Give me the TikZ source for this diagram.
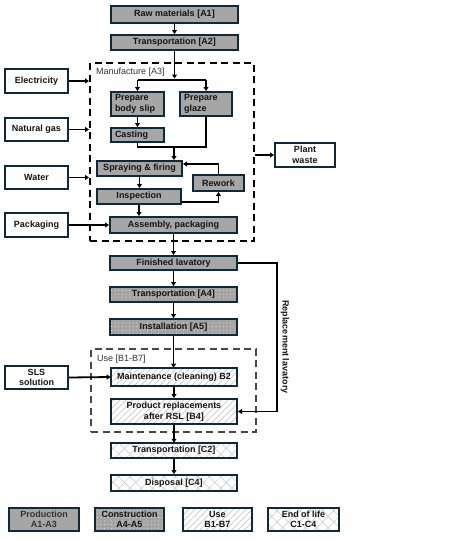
\documentclass[tikz,border=0pt]{standalone}
\usepackage{fontspec}
\setmainfont{Liberation Sans}
\usetikzlibrary{patterns.meta,arrows.meta,calc}
\definecolor{bordc}{HTML}{0E2A38}
\definecolor{prodc}{HTML}{A6A6A6}
\definecolor{consc}{HTML}{A3A3A3}
\definecolor{hatchc}{HTML}{C8C8C8}
\definecolor{txtc}{HTML}{141414}
\definecolor{labc}{HTML}{333333}
\tikzset{
  base/.style={draw=bordc, line width=2pt, inner sep=1pt, text=txtc,
    font=\fontsize{9}{10.5}\selectfont\bfseries, align=center},
  prod/.style={base, fill=prodc},
  cons/.style={base, preaction={fill=consc}, pattern={Dots[radius=0.45pt,distance=3.6pt]}, pattern color=white},
  usebox/.style={base, preaction={fill=white}, pattern={Lines[angle=45,distance=4.5pt,line width=0.7pt]}, pattern color=hatchc},
  eol/.style={base, preaction={fill=white}, pattern={Hatch[angle=45,distance=8pt,line width=0.5pt]}, pattern color=hatchc},
  inbox/.style={base, fill=white},
  arr/.style={line width=1.8pt, draw=black, -{Triangle[length=4pt,width=5pt]}},
  ln/.style={line width=1.8pt, draw=black},
  dashbox/.style={draw=black, line width=2pt, dash pattern=on 7pt off 4.5pt, inner sep=0pt},
  usedash/.style={draw=labc!90, line width=2pt, dash pattern=on 7pt off 4.5pt, inner sep=0pt},
  lab/.style={font=\fontsize{9}{10.5}\selectfont, text=labc, inner sep=0pt}
}
\begin{document}
\begin{tikzpicture}[x=1pt,y=-1pt]
\useasboundingbox (0,0) rectangle (460,539);
% dashed groups
\node[dashbox, minimum width=164pt, minimum height=178pt] (manuf) at (172,152) {};
\node[usedash, minimum width=165pt, minimum height=83pt] (usegrp) at (173.5,390.5) {};
\node[lab, anchor=west] (manuflab) at (96,72) {Manufacture [A3]};
\node[lab, anchor=west] (uselab) at (97,359) {Use [B1-B7]};
% production
\node[prod, minimum width=127pt, minimum height=17pt] (raw) at (174.5,14.5) {Raw materials [A1]};
\node[prod, minimum width=127pt, minimum height=15pt] (tA2) at (174.5,42.5) {Transportation [A2]};
\node[prod, minimum width=53pt, minimum height=24pt, align=left, text width=45pt] (body) at (137.5,104) {Prepare\\body slip};
\node[prod, minimum width=52pt, minimum height=24pt, align=left, text width=44pt] (glaze) at (206,104) {Prepare\\glaze};
\node[prod, minimum width=53pt, minimum height=14pt, align=left, text width=45pt] (casting) at (137.5,135) {Casting};
\node[prod, minimum width=85pt, minimum height=15pt] (spray) at (139.5,168.5) {Spraying \& firing};
\node[prod, minimum width=51pt, minimum height=16pt] (rework) at (218.5,183) {Rework};
\node[prod, minimum width=84pt, minimum height=15pt] (insp) at (139,196.5) {Inspection};
\node[prod, minimum width=127pt, minimum height=16pt] (assem) at (173.5,225) {Assembly, packaging};
\node[prod, minimum width=127pt, minimum height=14pt] (fin) at (173.5,263) {Finished lavatory};
% inputs
\node[inbox, minimum width=63pt, minimum height=24pt] (elec) at (36.5,81) {Electricity};
\node[inbox, minimum width=63pt, minimum height=23pt] (gas) at (36.5,129.5) {Natural gas};
\node[inbox, minimum width=63pt, minimum height=23pt] (water) at (36.5,177.5) {Water};
\node[inbox, minimum width=63pt, minimum height=24pt] (pack) at (36.5,225) {Packaging};
\node[inbox, minimum width=60pt, minimum height=24pt] (plant) at (305,155) {Plant\\waste};
\node[inbox, minimum width=63pt, minimum height=23pt] (sls) at (36.5,377.5) {SLS\\solution};
% construction
\node[cons, minimum width=127pt, minimum height=15pt] (tA4) at (173.5,294.5) {Transportation [A4]};
\node[cons, minimum width=127pt, minimum height=16pt] (inst) at (173.5,327) {Installation [A5]};
% use
\node[usebox, minimum width=126pt, minimum height=18pt] (maint) at (174,377) {Maintenance (cleaning) B2};
\node[usebox, minimum width=126pt, minimum height=25pt] (repl) at (174,411.5) {Product replacements\\after RSL [B4]};
% end of life
\node[eol, minimum width=126pt, minimum height=15pt] (tC2) at (174,450.5) {Transportation [C2]};
\node[eol, minimum width=126pt, minimum height=16pt] (disp) at (174,483) {Disposal [C4]};
% legend
\node[prod, minimum width=70pt, minimum height=23pt, text=labc] (lprod) at (44,519.5) {Production\\A1-A3};
\node[cons, minimum width=69pt, minimum height=23pt] (lcons) at (129.5,519.5) {Construction\\A4-A5};
\node[usebox, minimum width=69pt, minimum height=23pt] (luse) at (217.5,519.5) {Use\\B1-B7};
\node[eol, minimum width=71pt, minimum height=23pt] (leol) at (303.5,519.5) {End of life\\C1-C4};
% connectors
\coordinate (split) at (174.5,80);
\coordinate (merge) at (174,147);
\coordinate (rwk) at (218.5,164);
\draw[arr] (raw.south) -- (tA2.north);
\draw[arr] (tA2.south) -- ([yshift=1.5pt]split);
\draw[ln] (split -| body.north) -- (split -| glaze.north);
\draw[arr] (split -| body.north) -- (body.north);
\draw[arr] (split -| glaze.north) -- (glaze.north);
\draw[arr] (body.south) -- (casting.north);
\draw[ln] (casting.south) |- (merge) -| (glaze.south);
\draw[arr] (merge) -- (merge |- spray.north);
\draw[arr] (spray.south) -- (spray.south |- insp.north);
\draw[arr] (rework.north) -- (rwk) -- (rwk -| spray.east);
\draw[arr] ($(insp.east)+(0,5.5)$) -| (rework.south);
\draw[arr] (insp.south) -- (insp.south |- assem.north);
\draw[arr] (elec.east) -- (elec.east -| manuf.west);
\draw[arr] (gas.east) -- (gas.east -| manuf.west);
\draw[arr] (water.east) -- (water.east -| manuf.west);
\draw[arr] (pack.east) -- (assem.west);
\draw[arr] (plant.west -| manuf.east) -- (plant.west);
\draw[arr] (assem.south) -- (assem.south |- fin.north);
\draw[arr] (fin.south) -- (tA4.north);
\draw[arr] (tA4.south) -- (inst.north);
\draw[arr] (inst.south) -- (inst.south |- maint.north);
\draw[arr] (sls.east) -- (maint.west);
\draw[arr] (maint.south) -- (repl.north);
\draw[arr] (repl.south) -- (tC2.north);
\draw[arr] (tC2.south) -- (disp.north);
\coordinate (rl) at (277,263);
\draw[arr] (fin.east) -- (rl) |- (repl.east);
\node[lab, text=txtc, rotate=-90, font=\fontsize{9}{10.5}\selectfont\bfseries] (rlab) at (285,347) {Replacement lavatory};
\end{tikzpicture}
\end{document}
